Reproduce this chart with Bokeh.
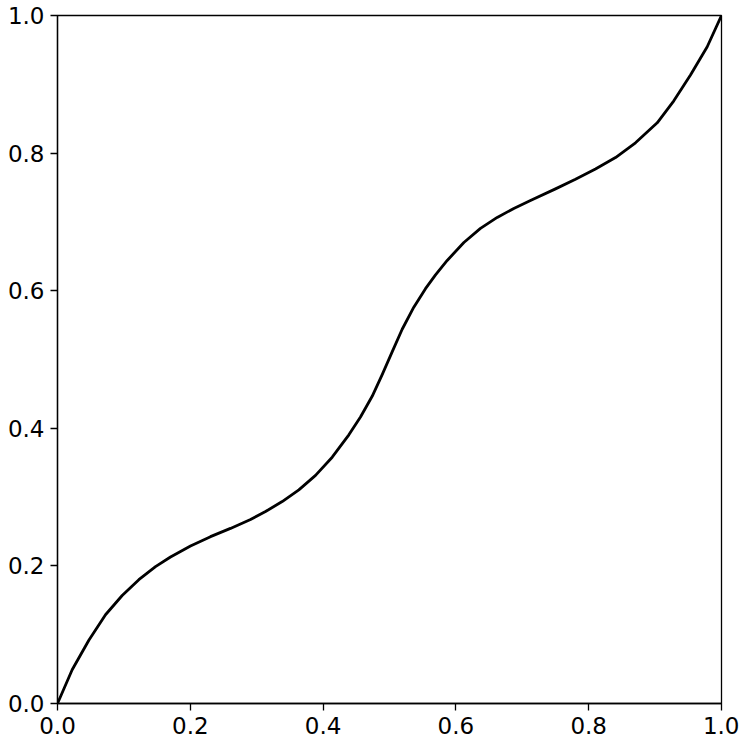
from bokeh.plotting import figure
from bokeh.models import Range1d, PrintfTickFormatter, FixedTicker
from bokeh.embed import file_html
from bokeh.resources import INLINE

x_vals = [0.0, 0.0221, 0.0472, 0.0723, 0.0974, 0.1225, 0.1476, 0.1702, 0.2003, 0.2304,
          0.2605, 0.2907, 0.3133, 0.3384, 0.3635, 0.3886, 0.4137, 0.4388, 0.4563, 0.4739,
          0.489, 0.504, 0.5191, 0.5366, 0.5542, 0.5693, 0.5869, 0.612, 0.637, 0.6622,
          0.6872, 0.7123, 0.75, 0.7801, 0.8102, 0.8404, 0.8705, 0.9032, 0.9282, 0.9533,
          0.9785, 1.0]
y_vals = [0.0, 0.0490, 0.0920, 0.1290, 0.1570, 0.1800, 0.1990, 0.2130, 0.2290, 0.2425,
          0.2545, 0.2675, 0.2790, 0.2935, 0.3105, 0.3315, 0.3580, 0.3905, 0.4165, 0.4465,
          0.4780, 0.5110, 0.5440, 0.5760, 0.6030, 0.6230, 0.6440, 0.6700, 0.6905, 0.7065,
          0.7195, 0.7310, 0.7480, 0.7620, 0.7770, 0.7935, 0.8150, 0.8440, 0.8760, 0.9134,
          0.9546, 1.0]
ticks = [0.0, 0.2, 0.4, 0.6, 0.8, 1.0]

p = figure(width=739, height=739, output_backend="svg", toolbar_location=None,
           x_range=Range1d(0, 1), y_range=Range1d(0, 1),
           min_border_left=57, min_border_right=18, min_border_top=15, min_border_bottom=36)
p.line(x_vals, y_vals, line_color="black", line_width=2.8, line_join="round")

p.grid.visible = False
p.outline_line_color = "black"
p.outline_line_width = 1.3
p.background_fill_color = "white"
p.border_fill_color = "white"
for ax in (p.xaxis[0], p.yaxis[0]):
    ax.ticker = FixedTicker(ticks=ticks)
    ax.formatter = PrintfTickFormatter(format="%.1f")
    ax.major_label_text_font = "DejaVu Sans"
    ax.major_label_text_font_size = "23px"
    ax.major_label_text_color = "black"
    ax.major_tick_in = 0
    ax.major_tick_out = 7
    ax.major_tick_line_width = 1.3
    ax.minor_tick_line_color = None
    ax.axis_line_color = "black"
    ax.axis_line_width = 1.3
    ax.major_label_standoff = 6

open("out.html", "w").write(file_html(p, INLINE))
